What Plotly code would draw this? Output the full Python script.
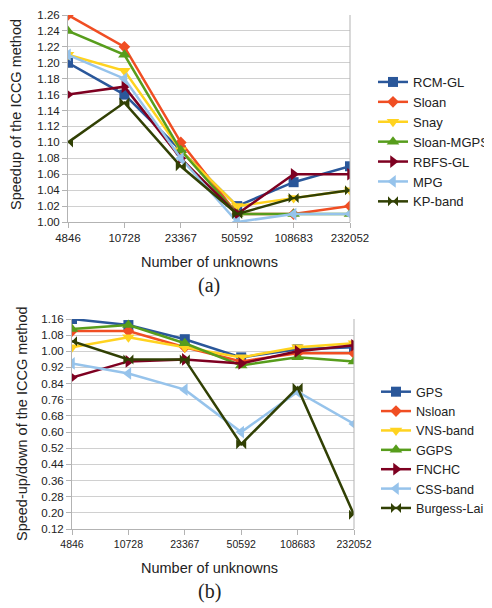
import plotly.graph_objects as go

categories = ["4846", "10728", "23367", "50592", "108683", "232052"]

# Panel (a)
a_names = ["RCM-GL", "Sloan", "Snay", "Sloan-MGPS", "RBFS-GL", "MPG", "KP-band"]
a_rcm_gl = [1.20, 1.16, 1.09, 1.02, 1.05, 1.07]
a_sloan = [1.26, 1.22, 1.10, 1.01, 1.01, 1.02]
a_snay = [1.21, 1.19, 1.09, 1.02, 1.03, 1.04]
a_sloan_mgps = [1.24, 1.21, 1.09, 1.01, 1.01, 1.01]
a_rbfs_gl = [1.16, 1.17, 1.08, 1.01, 1.06, 1.06]
a_mpg = [1.21, 1.18, 1.08, 1.00, 1.01, 1.01]
a_kp_band = [1.10, 1.15, 1.07, 1.01, 1.03, 1.04]
a_ticks = [1.00, 1.02, 1.04, 1.06, 1.08, 1.10, 1.12, 1.14, 1.16, 1.18, 1.20, 1.22, 1.24, 1.26]

# Panel (b)
b_names = ["GPS", "Nsloan", "VNS-band", "GGPS", "FNCHC", "CSS-band", "Burgess-Lai"]
b_gps = [1.16, 1.13, 1.06, 0.97, 1.01, 1.02]
b_nsloan = [1.10, 1.10, 1.02, 0.95, 0.99, 0.99]
b_vns_band = [1.02, 1.07, 1.02, 0.97, 1.02, 1.04]
b_ggps = [1.11, 1.13, 1.04, 0.93, 0.97, 0.95]
b_fnchc = [0.87, 0.95, 0.96, 0.94, 1.00, 1.03]
b_css_band = [0.94, 0.89, 0.81, 0.60, 0.80, 0.64]
b_burgess_lai = [1.05, 0.96, 0.96, 0.54, 0.82, 0.19]
b_ticks = [0.12, 0.20, 0.28, 0.36, 0.44, 0.52, 0.60, 0.68, 0.76, 0.84, 0.92, 1.00, 1.08, 1.16]

colors = ["#2a579a", "#f04e23", "#ffd320", "#579d1c", "#7e0021", "#96c3eb", "#314004"]
symbols = ["square", "diamond", "triangle-down", "triangle-up", "triangle-right", "triangle-left", "bowtie"]
msizes = [10, 9, 11, 11, 11, 11, 10]

# page body has an 8px margin: figure is drawn 8px in from the window edge
OFF = 8
W, H = 492 - OFF, 608 - OFF


def fx(px):
    return (px - OFF) / W


def fy(py):
    return 1 - (py - OFF) / H


fig = go.Figure()

a_series = [a_rcm_gl, a_sloan, a_snay, a_sloan_mgps, a_rbfs_gl, a_mpg, a_kp_band]
b_series = [b_gps, b_nsloan, b_vns_band, b_ggps, b_fnchc, b_css_band, b_burgess_lai]

for i, (n, v) in enumerate(zip(a_names, a_series)):
    fig.add_trace(go.Scatter(
        x=categories, y=v, name=n, mode="lines+markers",
        line=dict(color=colors[i], width=2.5),
        marker=dict(symbol=symbols[i], size=msizes[i], color=colors[i]),
        xaxis="x", yaxis="y", legend="legend"))

for i, (n, v) in enumerate(zip(b_names, b_series)):
    fig.add_trace(go.Scatter(
        x=categories, y=v, name=n, mode="lines+markers",
        line=dict(color=colors[i], width=2.5),
        marker=dict(symbol=symbols[i], size=msizes[i], color=colors[i]),
        xaxis="x2", yaxis="y2", legend="legend2"))

grid = "#d0d0d0"
axc = "#b3b3b3"
sans = "Liberation Sans, Arial, sans-serif"
tickfont = dict(family=sans, size=11.5, color="#222")
tickfont_b = dict(family=sans, size=10.5, color="#222")

common_x = dict(type="category", range=[0, 5], showgrid=False, showline=True,
                linecolor=axc, linewidth=1, mirror=False, ticks="outside",
                ticklen=5, tickcolor=axc, zeroline=False,
                fixedrange=True, automargin=False)
common_y = dict(showgrid=True, gridcolor=grid, gridwidth=1,
                showline=True, linecolor=axc, ticks="outside", ticklen=5,
                tickcolor=axc, tickfont=tickfont, zeroline=False, fixedrange=True,
                automargin=False, ticklabeloverflow="allow")

fig.update_layout(
    template="none",
    width=W, height=H,
    margin=dict(l=0, r=0, t=0, b=0, autoexpand=False),
    paper_bgcolor="white", plot_bgcolor="white",
    showlegend=True,
    xaxis=dict(domain=[fx(68), fx(350)], anchor="y", tickfont=tickfont, **common_x),
    yaxis=dict(domain=[fy(222), fy(15)], anchor="x", range=[1.0, 1.26],
               tickvals=a_ticks, ticktext=[f"{t:.2f}" for t in a_ticks], **common_y),
    xaxis2=dict(domain=[fx(72), fx(354)], anchor="y2", tickfont=tickfont_b, **common_x),
    yaxis2=dict(domain=[fy(529), fy(319)], anchor="x2", range=[0.12, 1.16],
                tickvals=b_ticks, ticktext=[f"{t:.2f}" for t in b_ticks], **common_y),
    legend=dict(x=fx(373), y=fy(67), xanchor="left", yanchor="top",
                font=dict(family=sans, size=13, color="#222"),
                bgcolor="rgba(0,0,0,0)", tracegroupgap=0,
                itemwidth=30, borderwidth=0),
    legend2=dict(x=fx(376), y=fy(377), xanchor="left", yanchor="top",
                 font=dict(family=sans, size=12.6, color="#222"),
                 bgcolor="rgba(0,0,0,0)", tracegroupgap=0,
                 itemwidth=30, borderwidth=0),
)

fig.add_shape(type="line", xref="x domain", yref="y domain", x0=1, x1=1, y0=0, y1=1,
              line=dict(color=axc, width=1))
fig.add_shape(type="line", xref="x2 domain", yref="y2 domain", x0=1, x1=1, y0=0, y1=1,
              line=dict(color=axc, width=1))

labfont = dict(family=sans, size=14.5, color="#222")
serfont = dict(family="Liberation Serif, serif", size=20, color="#222")


def note(text, px, py, font, angle=0):
    fig.add_annotation(text=text, x=fx(px), y=fy(py), xref="paper", yref="paper",
                       xanchor="center", yanchor="middle", showarrow=False,
                       textangle=angle, font=font)


note("Number of unknowns", 209, 262, labfont)
note("(a)", 209, 285, serfont)
note("Speedup of the ICCG method", 16, 115, labfont, -90)
note("Number of unknowns", 209, 568, labfont)
note("(b)", 209, 591, serfont)
note("Speed-up/down of the ICCG method", 22, 424, labfont, -90)

fig.write_html("out.html")
